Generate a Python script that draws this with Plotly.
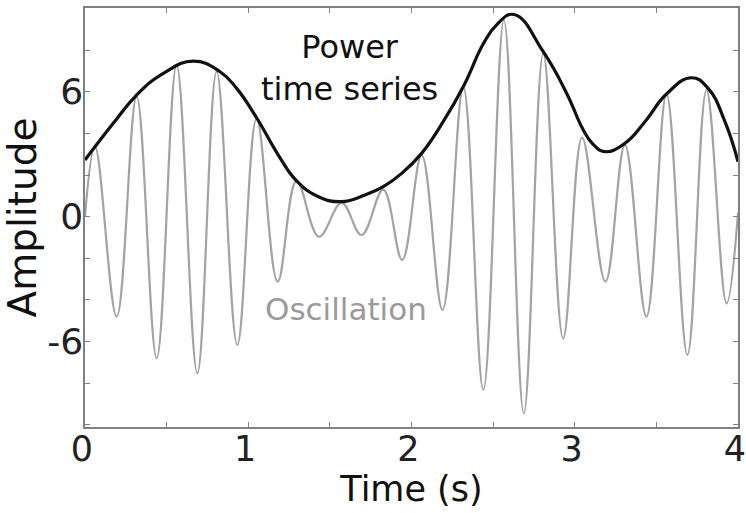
import plotly.graph_objects as go

# Oscillation: times (s) and amplitudes of its successive extrema
osc_t = [0.0, 0.061, 0.194, 0.316, 0.439, 0.561, 0.688, 0.806, 0.933, 1.051,
         1.180, 1.296, 1.433, 1.572, 1.694, 1.827, 1.943, 2.062, 2.190, 2.317,
         2.440, 2.566, 2.688, 2.807, 2.929, 3.045, 3.188, 3.307, 3.439, 3.562,
         3.690, 3.807, 3.930, 4.0]
osc_v = [0.0, 3.36, -4.80, 5.76, -6.80, 7.28, -7.52, 6.96, -6.16, 4.72,
         -3.12, 1.72, -0.96, 0.66, -0.88, 1.30, -2.08, 2.96, -4.48, 6.24,
         -8.32, 9.44, -9.44, 7.84, -5.84, 3.80, -3.12, 3.44, -4.80, 5.87,
         -6.64, 6.08, -4.16, 0.2]

# Power time series (envelope of the oscillation)
env_t = [0.0, 0.173, 0.316, 0.48, 0.663, 0.827, 0.929, 1.051, 1.184,
         1.296, 1.43, 1.572, 1.715, 1.827, 1.94, 2.062, 2.194, 2.317, 2.44,
         2.52, 2.627, 2.807, 2.95, 3.05, 3.11, 3.184, 3.307, 3.43, 3.562,
         3.715, 3.817, 3.92, 4.0]
env_v = [2.72, 4.48, 5.84, 6.88, 7.47, 6.96, 6.16, 4.75, 2.96,
         1.72, 0.96, 0.72, 1.04, 1.44, 2.08, 3.04, 4.56, 6.24, 8.3,
         9.2, 9.71, 7.92, 5.93, 4.2, 3.5, 3.12, 3.52, 4.56, 5.89,
         6.67, 6.16, 4.56, 2.64]

# Axis ticks
x_tickvals = [0, 0.5, 1, 1.5, 2, 2.5, 3, 3.5, 4]
x_ticktext = ["0", "", "1", "", "2", "", "3", "", "4"]
y_tickvals = [-10, -8, -6, -4, -2, 0, 2, 4, 6, 8, 10]
y_ticktext = ["", "", "-6", "", "", "0", "", "", "6", "", ""]

FONT = "DejaVu Sans"

fig = go.Figure()
fig.add_trace(go.Scatter(
    x=osc_t, y=osc_v, mode="lines",
    line=dict(color="#a3a3a3", width=2.2, shape="spline", smoothing=1.1),
    showlegend=False, hoverinfo="skip",
))
fig.add_trace(go.Scatter(
    x=env_t, y=env_v, mode="lines",
    line=dict(color="#111111", width=3.2, shape="spline", smoothing=1.3),
    showlegend=False, hoverinfo="skip",
))

fig.add_annotation(x=1.623, y=7.15, xref="x", yref="y",
                   text="Power<br>time series",
                   showarrow=False, xanchor="center", yanchor="middle",
                   font=dict(family=FONT, size=32, color="#111111"))
fig.add_annotation(x=1.598, y=-4.42, xref="x", yref="y", text="Oscillation",
                   showarrow=False, xanchor="center", yanchor="middle",
                   font=dict(family=FONT, size=31, color="#9a9a9a"))

axis_common = dict(
    showline=True, linecolor="#808080", linewidth=1.5, mirror="ticks",
    ticks="inside", ticklen=5, tickwidth=1.2, tickcolor="#808080",
    showgrid=False, zeroline=False, ticklabeloverflow="allow",
    automargin=False,
)

fig.update_xaxes(
    range=[0, 4], tickmode="array", tickvals=x_tickvals, ticktext=x_ticktext,
    ticklabelstandoff=-10, ticklabelshift=-3,
    tickfont=dict(family=FONT, size=35, color="#222222"),
    title=dict(text="Time (s)", font=dict(family=FONT, size=35, color="#111111"),
               standoff=0),
    **axis_common,
)
fig.update_yaxes(
    range=[-10.1, 10.02], tickmode="array", tickvals=y_tickvals, ticktext=y_ticktext,
    ticklabelstandoff=-7,
    tickfont=dict(family=FONT, size=36, color="#222222"),
    title=dict(text="Amplitude", font=dict(family=FONT, size=39, color="#111111"),
               standoff=0),
    **axis_common,
)

fig.update_layout(
    width=746, height=513,
    margin=dict(l=85, r=8, t=8, b=86),
    paper_bgcolor="white", plot_bgcolor="white",
)

fig.write_html("out.html")
